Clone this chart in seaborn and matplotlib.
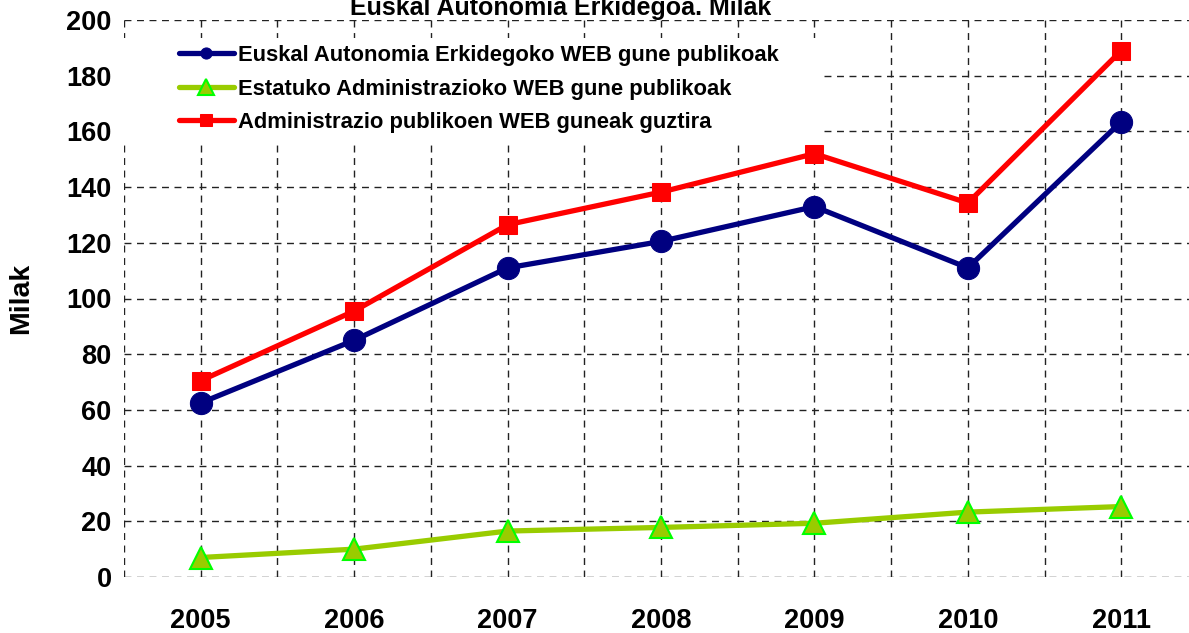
import numpy as np
import pandas as pd
import matplotlib
matplotlib.use("Agg")
import matplotlib.pyplot as plt
import seaborn as sns
from matplotlib.patches import Rectangle

# values (thousands)
years = ['2005', '2006', '2007', '2008', '2009', '2010', '2011']
euskal = [62.5, 85.0, 111.0, 120.5, 133.0, 111.0, 163.5]
estatuko = [7.0, 10.0, 16.5, 17.8, 19.3, 23.3, 25.3]
guztira = [70.5, 95.5, 126.5, 138.2, 152.0, 134.3, 189.0]

labels = ['Euskal Autonomia Erkidegoko WEB gune publikoak',
          'Estatuko Administrazioko WEB gune publikoak',
          'Administrazio publikoen WEB guneak guztira']
title = 'Euskal Autonomia Erkidegoa. Milak'

sns.set_theme(style='white')
plt.rcParams['font.family'] = ['Liberation Sans', 'DejaVu Sans']
plt.rcParams['text.color'] = 'black'
plt.rcParams['axes.labelcolor'] = 'black'
plt.rcParams['xtick.color'] = 'black'
plt.rcParams['ytick.color'] = 'black'

df = pd.DataFrame({'pos': np.arange(len(years)),
                   'euskal': euskal, 'estatuko': estatuko, 'guztira': guztira})

fig = plt.figure(figsize=(11.89, 6.33), dpi=100)
ax = fig.add_axes([124 / 1189, 56 / 633, 1074 / 1189, 557 / 633])

styles = [
    ('euskal', labels[0], dict(color='#000080', marker='o', markersize=16,
                                markerfacecolor='#000080', markeredgecolor='#000080')),
    ('estatuko', labels[1], dict(color='#99CC00', marker='^', markersize=16,
                                  markerfacecolor='#99CC00', markeredgecolor='#00FF00',
                                  markeredgewidth=1.5)),
    ('guztira', labels[2], dict(color='#FF0000', marker='s', markersize=13,
                                 markerfacecolor='#FF0000', markeredgecolor='#FF0000')),
]
for col, lab, kw in styles:
    sns.lineplot(data=df, x='pos', y=col, ax=ax, label=lab, linewidth=3.8,
                 zorder=3, clip_on=False, **kw)

ax.set_xlim(-0.5, 6.5)
ax.set_ylim(0, 200)
ax.set_xticks(np.arange(len(years)))
ax.set_xticklabels(years)
ax.set_xticks(np.arange(len(years) + 1) - 0.5, minor=True)
ax.set_yticks(np.arange(0, 201, 20))
for s in ax.spines.values():
    s.set_visible(False)

grid_kw = dict(color='#222222', linestyle=(0, (5, 4)), linewidth=1.0)
ax.set_axisbelow(True)
ax.grid(True, axis='y', which='major', **grid_kw)
ax.grid(True, axis='x', which='both', **grid_kw)

ax.tick_params(axis='both', which='both', length=0)
ax.tick_params(axis='y', pad=9, labelsize=19.5)
ax.tick_params(axis='x', pad=22, labelsize=19.5)
for t in ax.get_xticklabels() + ax.get_yticklabels():
    t.set_fontweight('bold')

ax.set_xlabel('')
ax.set_ylabel('Milak', fontsize=20.5, fontweight='bold')
ax.yaxis.set_label_coords(-0.084, 0.5)

# white box behind the legend, hiding the grid
ax.add_patch(Rectangle((124 / 1189, 1 - 143 / 633), 696 / 1189, 105 / 633,
                       transform=fig.transFigure, facecolor='white',
                       edgecolor='none', zorder=1.5))

leg = ax.legend(loc='upper left', bbox_to_anchor=(179 / 1189, 1 - 45 / 633),
                bbox_transform=fig.transFigure, frameon=False, borderpad=0,
                borderaxespad=0, handlelength=2.5, handletextpad=0.2,
                labelspacing=0.57, prop={'size': 15.8, 'weight': 'bold'})
for h, ms in zip(leg.legend_handles, [8, 11, 9]):
    h.set_markersize(ms)
leg.set_zorder(5)

fig.text(561 / 1189, 1 - 15 / 633, title, ha='center', va='baseline',
         fontsize=18, fontweight='bold')

fig.savefig('out.png', dpi=100)
